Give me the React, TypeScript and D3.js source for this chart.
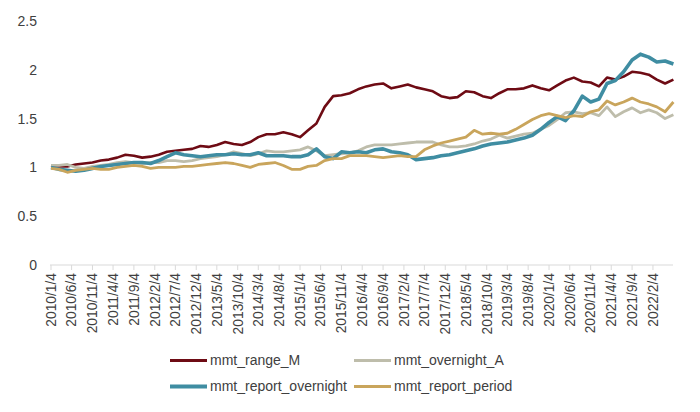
import { useEffect, useRef } from 'react';
import * as d3 from 'd3';

// sampled every two months, 2010/1 .. 2022/7
const startDate = '2010-01-04';
const sampleCount = 76;

const rangeM = [
  1.00, 1.01, 1.01, 1.03, 1.04, 1.05, 1.07, 1.08, 1.10, 1.13,
  1.12, 1.10, 1.11, 1.13, 1.16, 1.17, 1.18, 1.19, 1.22, 1.21,
  1.23, 1.26, 1.24, 1.23, 1.26, 1.31, 1.34, 1.34, 1.36, 1.34,
  1.31, 1.38, 1.45, 1.62, 1.73, 1.74, 1.76, 1.80, 1.83, 1.85,
  1.86, 1.81, 1.83, 1.85, 1.82, 1.80, 1.78, 1.73, 1.71, 1.72,
  1.78, 1.77, 1.73, 1.71, 1.76, 1.80, 1.80, 1.81, 1.84, 1.81,
  1.79, 1.84, 1.89, 1.92, 1.88, 1.87, 1.83, 1.92, 1.90, 1.93,
  1.98, 1.97, 1.95, 1.90, 1.86, 1.90,
];

const overnightA = [
  1.02, 1.02, 1.03, 1.00, 0.99, 1.01, 1.02, 1.03, 1.05, 1.06,
  1.05, 1.04, 1.05, 1.05, 1.07, 1.07, 1.06, 1.07, 1.09, 1.10,
  1.11, 1.13, 1.16, 1.14, 1.12, 1.14, 1.17, 1.16, 1.16, 1.17,
  1.18, 1.21, 1.17, 1.12, 1.13, 1.14, 1.15, 1.17, 1.21, 1.23,
  1.23, 1.23, 1.24, 1.25, 1.26, 1.26, 1.26, 1.23, 1.21, 1.21,
  1.22, 1.24, 1.27, 1.29, 1.33, 1.30, 1.32, 1.34, 1.35, 1.39,
  1.43, 1.49, 1.56, 1.57, 1.55, 1.56, 1.53, 1.62, 1.52, 1.57,
  1.61, 1.56, 1.59, 1.56, 1.50, 1.54,
];

const reportOvernight = [
  1.00, 0.98, 0.97, 0.96, 0.97, 0.99, 1.01, 1.02, 1.03, 1.04,
  1.05, 1.05, 1.04, 1.07, 1.11, 1.15, 1.13, 1.12, 1.11, 1.12,
  1.13, 1.13, 1.14, 1.13, 1.13, 1.15, 1.12, 1.12, 1.12, 1.11,
  1.11, 1.13, 1.19, 1.11, 1.09, 1.16, 1.15, 1.16, 1.15, 1.18,
  1.19, 1.16, 1.15, 1.13, 1.08, 1.09, 1.10, 1.12, 1.13, 1.15,
  1.17, 1.19, 1.22, 1.24, 1.25, 1.26, 1.28, 1.30, 1.33, 1.39,
  1.46, 1.52, 1.48, 1.58, 1.73, 1.67, 1.70, 1.86, 1.89, 1.98,
  2.10, 2.16, 2.13, 2.08, 2.09, 2.06,
];

const reportPeriod = [
  0.99, 0.98, 0.95, 0.97, 0.98, 0.99, 0.98, 0.98, 1.00, 1.01,
  1.02, 1.01, 0.99, 1.00, 1.00, 1.00, 1.01, 1.01, 1.02, 1.03,
  1.04, 1.05, 1.04, 1.02, 1.00, 1.03, 1.04, 1.05, 1.02, 0.98,
  0.98, 1.01, 1.02, 1.07, 1.09, 1.09, 1.12, 1.12, 1.12, 1.11,
  1.10, 1.11, 1.12, 1.11, 1.11, 1.18, 1.22, 1.25, 1.27, 1.29,
  1.31, 1.38, 1.34, 1.35, 1.34, 1.35, 1.39, 1.44, 1.49, 1.53,
  1.55, 1.53, 1.51, 1.53, 1.52, 1.57, 1.59, 1.68, 1.64, 1.67,
  1.71, 1.67, 1.65, 1.62, 1.57, 1.67,
];

const tickLabels = [
  '2010/1/4', '2010/6/4', '2010/11/4', '2011/4/4', '2011/9/4', '2012/2/4',
  '2012/7/4', '2012/12/4', '2013/5/4', '2013/10/4', '2014/3/4', '2014/8/4',
  '2015/1/4', '2015/6/4', '2015/11/4', '2016/4/4', '2016/9/4', '2017/2/4',
  '2017/7/4', '2017/12/4', '2018/5/4', '2018/10/4', '2019/3/4', '2019/8/4',
  '2020/1/4', '2020/6/4', '2020/11/4', '2021/4/4', '2021/9/4', '2022/2/4',
];

const yTicks = [0, 0.5, 1, 1.5, 2, 2.5];

const series = [
  { name: 'mmt_range_M', values: rangeM, color: '#6e0b14', width: 2.6 },
  { name: 'mmt_overnight_A', values: overnightA, color: '#bebdab', width: 2.8 },
  { name: 'mmt_report_overnight', values: reportOvernight, color: '#3f8da2', width: 3.6 },
  { name: 'mmt_report_period', values: reportPeriod, color: '#c9a55c', width: 2.8 },
];

const W = 700;
const H = 412;
const FONT = '"Liberation Sans", Arial, sans-serif';
const TEXT = '#404040';

export default function App() {
  const svgRef = useRef<SVGSVGElement>(null);

  useEffect(() => {
    if (!svgRef.current) return;
    const svg = d3.select(svgRef.current);
    svg.selectAll('*').remove();

    const parseTick = d3.timeParse('%Y/%m/%d');
    const start = d3.timeParse('%Y-%m-%d')(startDate)!;
    const dates = d3.range(sampleCount).map(i => d3.timeMonth.offset(start, i * 2));

    const x = d3.scaleTime()
      .domain([start, new Date(2022, 6, 1)])
      .range([51, 673]);
    const y = d3.scaleLinear().domain([0, 2.5]).range([265, 21]);

    // y labels
    svg.append('g')
      .selectAll('text')
      .data(yTicks)
      .enter()
      .append('text')
      .attr('x', 37)
      .attr('y', d => y(d))
      .attr('dy', '0.35em')
      .attr('text-anchor', 'end')
      .style('font-family', FONT)
      .style('font-size', '14px')
      .style('fill', TEXT)
      .text(d => String(d));

    // x axis line and ticks
    svg.append('line')
      .attr('x1', 50).attr('x2', 673)
      .attr('y1', y(0)).attr('y2', y(0))
      .attr('stroke', '#d9d9d9')
      .attr('stroke-width', 1);

    const ticks = tickLabels.map(t => ({ label: t, date: parseTick(t)! }));

    svg.append('g')
      .selectAll('line')
      .data(ticks)
      .enter()
      .append('line')
      .attr('x1', d => x(d.date)).attr('x2', d => x(d.date))
      .attr('y1', y(0)).attr('y2', y(0) + 5)
      .attr('stroke', '#d9d9d9');

    svg.append('g')
      .selectAll('text')
      .data(ticks)
      .enter()
      .append('text')
      .attr('transform', d => `translate(${x(d.date)},${y(0) + 8}) rotate(-90)`)
      .attr('dy', '0.35em')
      .attr('text-anchor', 'end')
      .style('font-family', FONT)
      .style('font-size', '13.8px')
      .style('fill', TEXT)
      .text(d => d.label);

    // lines
    const line = d3.line<number>()
      .x((_, i) => x(dates[i]))
      .y(d => y(d));

    series.forEach(s => {
      svg.append('path')
        .datum(s.values)
        .attr('d', line)
        .attr('fill', 'none')
        .attr('stroke', s.color)
        .attr('stroke-width', s.width)
        .attr('stroke-linejoin', 'round');
    });

    // legend, two columns
    const legend = svg.append('g');
    series.forEach((s, i) => {
      const lx = i % 2 === 0 ? 170 : 354;
      const ly = i < 2 ? 360.5 : 386.5;
      legend.append('line')
        .attr('x1', lx).attr('x2', lx + 37)
        .attr('y1', ly).attr('y2', ly)
        .attr('stroke', s.color)
        .attr('stroke-width', s.width + 0.4);
      legend.append('text')
        .attr('x', lx + 40)
        .attr('y', ly)
        .attr('dy', '0.35em')
        .style('font-family', FONT)
        .style('font-size', '14px')
        .style('fill', TEXT)
        .text(s.name);
    });
  }, []);

  return (
    <svg
      ref={svgRef}
      width={W}
      height={H}
      style={{ position: 'absolute', left: 0, top: 0, background: '#fff' }}
    />
  );
}
